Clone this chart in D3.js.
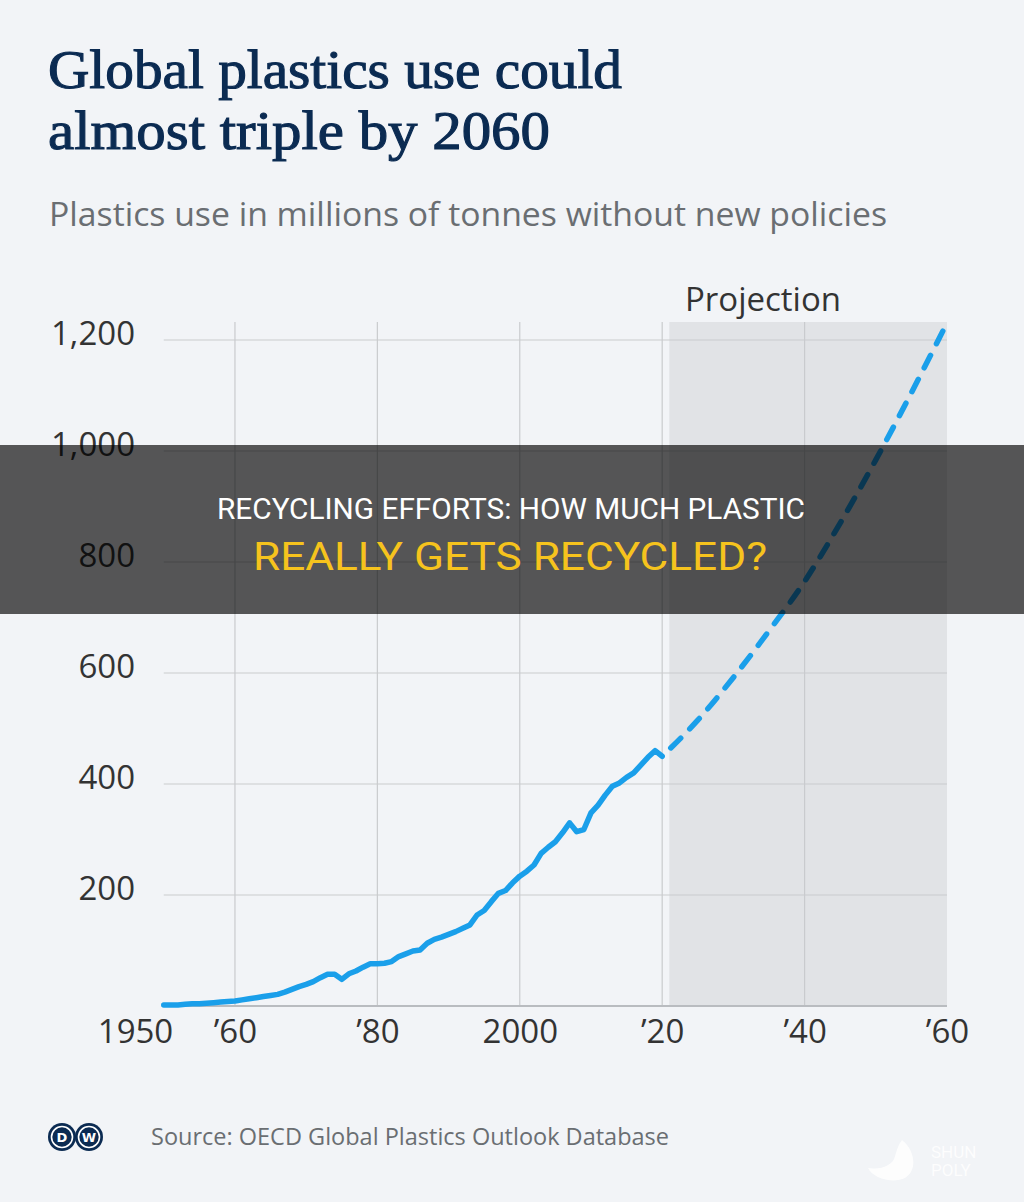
<!DOCTYPE html>
<html>
<head>
<meta charset="utf-8">
<script src="https://cdn.jsdelivr.net/npm/d3@7"></script>
<style>
  body { margin: 0; background: #f2f4f7; }
  svg { display: block; }
</style>
</head>
<body>
<div id="chart"></div>
<script>
// ============== data ================================================

var histYears = d3.range(1950, 2021);
var histValues = [
  2, 2, 2, 3, 4, 4, 5, 6, 7, 8,               // 1950s
  9, 11, 13, 15, 17, 19, 21, 25, 30, 35,      // 1960s
  39, 44, 51, 57, 57, 48, 58, 63, 70, 76,     // 1970s
  76, 77, 80, 89, 94, 99, 101, 113, 120, 124, // 1980s
  129, 134, 140, 146, 164, 172, 188, 203, 208, 222, // 1990s
  234, 243, 254, 275, 286, 296, 312, 330, 314, 318, // 2000s
  348, 362, 380, 396, 402, 412, 420, 434, 448, 460, // 2010s
  450                                          // 2020
];

var projYears  = [2020, 2025, 2030, 2035, 2040, 2045, 2050, 2055, 2060];
var projValues = [450, 515, 592, 676, 765, 870, 984, 1105, 1231];

var yTicks = [200, 400, 600, 800, 1000, 1200];
var xTicks = [1950, 1960, 1980, 2000, 2020, 2040, 2060];
var xTickLabels = ["1950", "\u201960", "\u201980", "2000", "\u201920", "\u201940", "\u201960"];
var gridYears = [1960, 1980, 2000, 2020, 2040];
var projectionStart = 2021;

var svgwidth = 1024, svgheight = 1202;
// plot box (window.top is read-only, so no "top" here)
var plotLeft = 163.75, plotRight = 947, plotTop = 340, plotBottom = 1006, gridTop = 322;

var svg = d3.select("#chart").append("svg")
  .attr("width", svgwidth)
  .attr("height", svgheight);

svg.append("rect")
  .attr("width", svgwidth).attr("height", svgheight)
  .attr("fill", "#f2f4f7");

var x = d3.scaleLinear().domain([1950, 2060]).range([plotLeft, plotRight]);
var y = d3.scaleLinear().domain([0, 1200]).range([plotBottom, plotTop]);

// title + subtitle
var title = svg.append("g")
  .attr("font-family", "'Liberation Serif', serif")
  .attr("font-size", 54)
  .attr("fill", "#0b2b52")
  .attr("stroke", "#0b2b52")
  .attr("stroke-width", 1.1);
title.append("text").attr("x", 48).attr("y", 88)
  .attr("textLength", 574).attr("lengthAdjust", "spacingAndGlyphs")
  .text("Global plastics use could");
title.append("text").attr("x", 48).attr("y", 149)
  .attr("textLength", 502).attr("lengthAdjust", "spacingAndGlyphs")
  .text("almost triple by 2060");

svg.append("text")
  .attr("x", 49).attr("y", 226)
  .attr("font-family", "'Open Sans', sans-serif")
  .attr("font-size", 32)
  .attr("fill", "#6a6e72")
  .attr("textLength", 838)
  .attr("lengthAdjust", "spacingAndGlyphs")
  .text("Plastics use in millions of tonnes without new policies");

// projection shading
svg.append("rect")
  .attr("x", x(projectionStart))
  .attr("y", gridTop)
  .attr("width", x(2060) - x(projectionStart))
  .attr("height", plotBottom - gridTop)
  .attr("fill", "#e1e3e6");

svg.append("text")
  .attr("x", 685).attr("y", 311)
  .attr("font-family", "'Open Sans', sans-serif")
  .attr("font-size", 33)
  .attr("fill", "#333")
  .text("Projection");

// grid lines
svg.append("g").selectAll("line")
  .data(yTicks)
  .enter().append("line")
  .attr("x1", plotLeft).attr("x2", plotRight)
  .attr("y1", function(d) { return y(d); })
  .attr("y2", function(d) { return y(d); })
  .attr("stroke", "#c9cbce")
  .attr("stroke-width", 1.2);

svg.append("g").selectAll("line")
  .data(gridYears)
  .enter().append("line")
  .attr("x1", function(d) { return x(d); })
  .attr("x2", function(d) { return x(d); })
  .attr("y1", gridTop).attr("y2", plotBottom)
  .attr("stroke", "#c9cbce")
  .attr("stroke-width", 1.2);

// baseline
svg.append("line")
  .attr("x1", plotLeft).attr("x2", plotRight)
  .attr("y1", y(0)).attr("y2", y(0))
  .attr("stroke", "#b9bcc0")
  .attr("stroke-width", 2);

// Y axis labels
var yAxis = svg.append("g")
  .attr("transform", "translate(135,0)")
  .call(d3.axisLeft(y).tickValues(yTicks).tickFormat(d3.format(",")).tickSize(0).tickPadding(0));
yAxis.select(".domain").remove();
yAxis.selectAll("text")
  .attr("dy", null)
  .attr("y", 4)
  .attr("font-family", "'Open Sans', sans-serif")
  .attr("font-size", 33)
  .attr("fill", "#333");

// X axis labels
var xAxis = svg.append("g")
  .attr("transform", "translate(0," + plotBottom + ")")
  .call(d3.axisBottom(x).tickValues(xTicks)
    .tickFormat(function(d, i) { return xTickLabels[i]; })
    .tickSize(0).tickPadding(0));
xAxis.select(".domain").remove();
xAxis.selectAll("text")
  .attr("dy", null)
  .attr("y", 37)
  .attr("font-family", "'Open Sans', sans-serif")
  .attr("font-size", 33)
  .attr("fill", "#333")
  .attr("text-anchor", function(d) { return d === 1950 ? "end" : "middle"; })
  .attr("x", function(d) { return d === 1950 ? 9 : 0; });

// lines
var line = d3.line()
  .x(function(d) { return x(d[0]); })
  .y(function(d) { return y(d[1]); });

var hist = histYears.map(function(d, i) { return [d, histValues[i]]; });
var proj = projYears.map(function(d, i) { return [d, projValues[i]]; });

svg.append("path")
  .datum(proj)
  .attr("d", line.curve(d3.curveMonotoneX))
  .attr("fill", "none")
  .attr("stroke", "#1a9fea")
  .attr("stroke-width", 5.5)
  .attr("stroke-linecap", "round")
  .attr("stroke-dasharray", "14,13")
  .attr("stroke-dashoffset", -12);

svg.append("path")
  .datum(hist)
  .attr("d", line.curve(d3.curveLinear))
  .attr("fill", "none")
  .attr("stroke", "#1a9fea")
  .attr("stroke-width", 5.5)
  .attr("stroke-linejoin", "round")
  .attr("stroke-linecap", "round");

// footer
var logo = svg.append("g");
logo.selectAll("circle.outer")
  .data([62, 89])
  .enter().append("circle")
  .attr("cx", function(d) { return d; })
  .attr("cy", 1137)
  .attr("r", 14)
  .attr("fill", "#0b2b52");
logo.selectAll("circle.ring")
  .data([62, 89])
  .enter().append("circle")
  .attr("cx", function(d) { return d; })
  .attr("cy", 1137)
  .attr("r", 10.5)
  .attr("fill", "none")
  .attr("stroke", "#fff")
  .attr("stroke-width", 1.6);
logo.selectAll("text")
  .data([[62, "D"], [89, "W"]])
  .enter().append("text")
  .attr("x", function(d) { return d[0]; })
  .attr("y", 1142)
  .attr("text-anchor", "middle")
  .attr("font-family", "'DejaVu Sans', sans-serif")
  .attr("font-weight", "bold")
  .attr("font-size", 13)
  .attr("fill", "#fff")
  .text(function(d) { return d[1]; });

svg.append("text")
  .attr("x", 151).attr("y", 1145)
  .attr("font-family", "'Open Sans', sans-serif")
  .attr("font-size", 23.5)
  .attr("fill", "#6a6e72")
  .text("Source: OECD Global Plastics Outlook Database");

// watermark
var wm = svg.append("g").attr("opacity", 0.85);
wm.append("path")
  .attr("d", "M902,1140 C915,1150 918,1170 905,1178 C893,1184 872,1178 868,1168 C880,1170 893,1166 895,1156 C897,1150 898,1145 902,1140 Z")
  .attr("fill", "#fff");
wm.selectAll("text")
  .data([["SHUN", 1158], ["POLY", 1176]])
  .enter().append("text")
  .attr("x", 931)
  .attr("y", function(d) { return d[1]; })
  .attr("font-family", "Roboto, sans-serif")
  .attr("font-size", 17)
  .attr("fill", "#fff")
  .text(function(d) { return d[0]; });

// overlay banner
svg.append("rect")
  .attr("x", 0).attr("y", 445)
  .attr("width", svgwidth).attr("height", 169)
  .attr("fill", "#000")
  .attr("opacity", 0.65);

svg.append("text")
  .attr("x", 217).attr("y", 519)
  .attr("font-family", "Roboto, sans-serif")
  .attr("font-size", 30)
  .attr("fill", "#fff")
  .attr("textLength", 588)
  .attr("lengthAdjust", "spacingAndGlyphs")
  .text("RECYCLING EFFORTS: HOW MUCH PLASTIC");

svg.append("text")
  .attr("x", 253).attr("y", 570)
  .attr("font-family", "Roboto, sans-serif")
  .attr("font-size", 38)
  .attr("fill", "#f6c31d")
  .attr("textLength", 514)
  .attr("lengthAdjust", "spacingAndGlyphs")
  .text("REALLY GETS RECYCLED?");
</script>
</body>
</html>
